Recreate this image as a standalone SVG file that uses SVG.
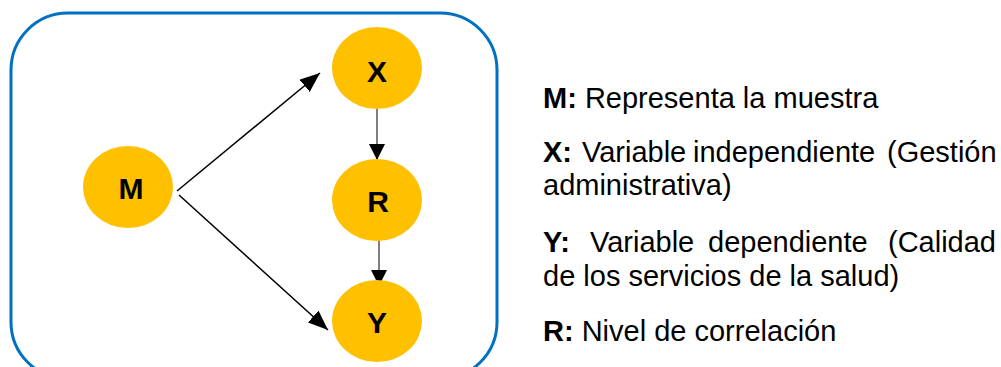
<svg xmlns="http://www.w3.org/2000/svg" width="1001" height="367" viewBox="0 0 1001 367">
<style>
.node{fill:#FFC000}
.lbl{font-family:"Liberation Sans",Arial,sans-serif;font-weight:bold;font-size:30px;fill:#000;text-anchor:middle}
.leg{font-family:"Liberation Sans",Arial,sans-serif;font-size:29px;fill:#000}
.b{font-weight:bold}
.diag{stroke:#000;stroke-width:1.5;fill:none}
.vert{stroke:#7f7f7f;stroke-width:2;fill:none}
</style>
<defs>
<marker id="ah" markerUnits="userSpaceOnUse" markerWidth="20" markerHeight="16" viewBox="0 0 20 16" refX="20" refY="8" orient="auto">
<path d="M0,0 L20,8 L0,16 Z" fill="#000"/>
</marker>
<marker id="ahv" markerUnits="userSpaceOnUse" markerWidth="16" markerHeight="16" viewBox="0 0 16 16" refX="16" refY="8" orient="auto">
<path d="M0,0 L16,8 L0,16 Z" fill="#000"/>
</marker>
</defs>
<rect id="frame" x="11" y="13" width="486" height="366" rx="57" ry="57" fill="none" stroke="#0070C0" stroke-width="3"/>
<g id="connectors">
<line class="diag" x1="177" y1="191" x2="320" y2="73" marker-end="url(#ah)"/>
<line class="diag" x1="179" y1="195" x2="328" y2="330" marker-end="url(#ah)"/>
<line class="vert" x1="377" y1="109" x2="377" y2="160" marker-end="url(#ahv)"/>
<line class="vert" x1="379" y1="236" x2="379" y2="286" marker-end="url(#ahv)"/>
</g>
<g id="node-M"><ellipse class="node" cx="128" cy="187" rx="45" ry="41"/><text class="lbl" x="131" y="199">M</text></g>
<g id="node-X"><ellipse class="node" cx="377" cy="68" rx="45" ry="41"/><text class="lbl" x="377" y="82">X</text></g>
<g id="node-R"><ellipse class="node" cx="377" cy="200" rx="45" ry="41"/><text class="lbl" x="378" y="212">R</text></g>
<g id="node-Y"><ellipse class="node" cx="377" cy="321" rx="45" ry="41"/><text class="lbl" x="377" y="333">Y</text></g>
<g id="legend">
<text class="leg" x="543" y="108"><tspan class="b">M:</tspan> Representa la muestra</text>
<text class="leg" y="162"><tspan class="b" x="543">X:</tspan><tspan x="582">Variable</tspan><tspan x="693">independiente</tspan><tspan x="887">(Gestión</tspan></text>
<text class="leg" x="543" y="195">administrativa)</text>
<text class="leg" y="252"><tspan class="b" x="543">Y:</tspan><tspan x="590">Variable</tspan><tspan x="708">dependiente</tspan><tspan x="888">(Calidad</tspan></text>
<text class="leg" x="543" y="286">de los servicios de la salud)</text>
<text class="leg" x="543" y="341"><tspan class="b">R:</tspan> Nivel de correlación</text>
</g>
</svg>
